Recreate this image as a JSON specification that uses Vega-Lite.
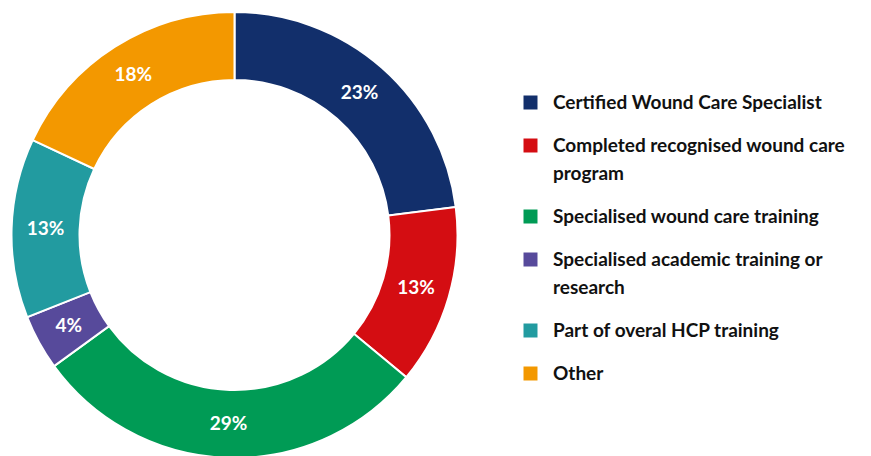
{
  "$schema": "https://vega.github.io/schema/vega-lite/v6.json",
  "width": 469,
  "height": 470,
  "padding": 0,
  "autosize": {"type": "pad"},
  "background": "white",
  "config": {"view": {"stroke": null}},
  "data": {
    "values": [
      {"category": "Certified Wound Care Specialist", "share": 0.23},
      {"category": "Completed recognised wound care program", "share": 0.13},
      {"category": "Specialised wound care training", "share": 0.29},
      {"category": "Specialised academic training or research", "share": 0.04},
      {"category": "Part of overal HCP training", "share": 0.13},
      {"category": "Other", "share": 0.18}
    ]
  },
  "transform": [{"window": [{"op": "row_number", "as": "idx"}]}],
  "encoding": {
    "theta": {"field": "share", "type": "quantitative", "stack": true},
    "order": {"field": "idx", "type": "quantitative"},
    "color": {
      "field": "category",
      "type": "nominal",
      "sort": null,
      "scale": {
        "domain": [
          "Certified Wound Care Specialist",
          "Completed recognised wound care program",
          "Specialised wound care training",
          "Specialised academic training or research",
          "Part of overal HCP training",
          "Other"
        ],
        "range": ["#122f6b", "#d40d12", "#009b55", "#574a9b", "#229ba0", "#f39800"]
      },
      "legend": {
        "title": null,
        "orient": "none",
        "legendX": 521,
        "legendY": 93,
        "padding": 0,
        "symbolType": "square",
        "symbolSize": 196,
        "symbolStrokeWidth": 0,
        "labelFont": "Lato",
        "labelFontSize": 19,
        "labelFontWeight": "bold",
        "labelColor": "#111111",
        "labelOffset": 13,
        "labelLimit": 400,
        "rowPadding": 23,
        "labelExpr": "datum.label == 'Completed recognised wound care program' ? ['Completed recognised wound care', 'program'] : datum.label == 'Specialised academic training or research' ? ['Specialised academic training or', 'research'] : datum.label",
        "encode": {"labels": {"update": {"lineHeight": {"value": 28}}}}
      }
    }
  },
  "layer": [
    {
      "mark": {"type": "arc", "innerRadius": 155, "outerRadius": 223, "stroke": "white", "strokeWidth": 2}
    },
    {
      "mark": {"type": "text", "radius": 189, "fill": "white", "font": "Lato", "fontSize": 19, "fontWeight": "bold"},
      "encoding": {"text": {"field": "share", "type": "quantitative", "format": ".0%"}}
    }
  ]
}
